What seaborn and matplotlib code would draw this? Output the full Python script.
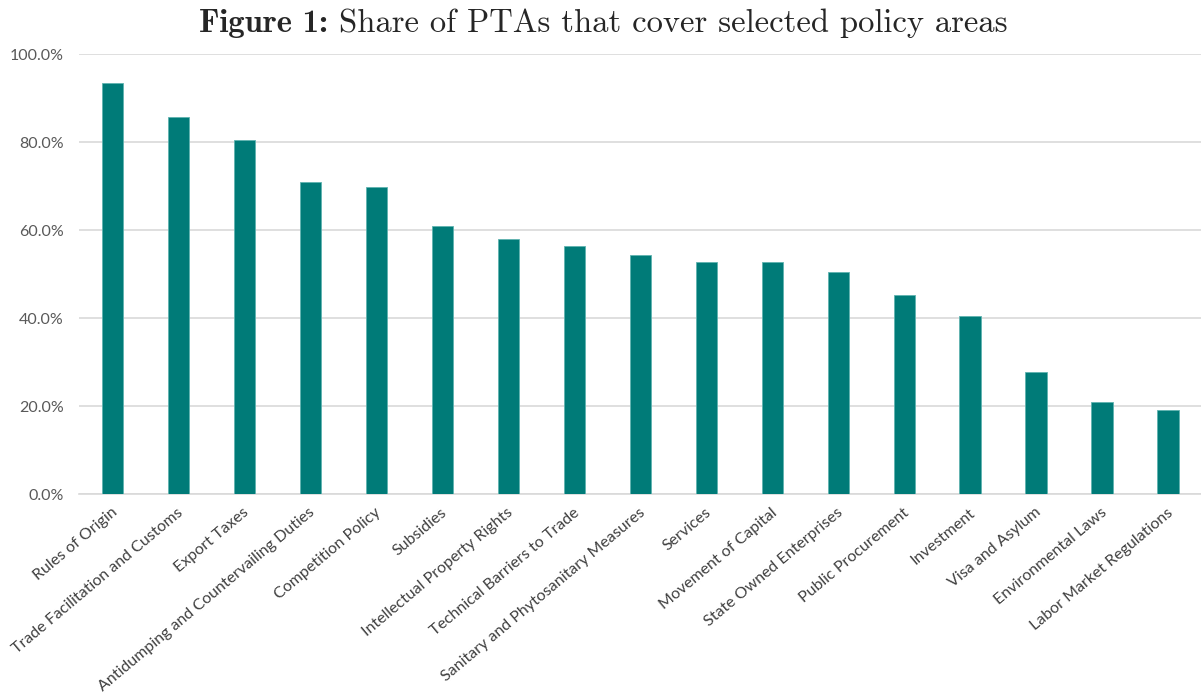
import matplotlib
matplotlib.use("Agg")
import matplotlib.pyplot as plt
import matplotlib.transforms as mtransforms
import seaborn as sns
import pandas as pd
from matplotlib.ticker import PercentFormatter

# policy areas and share of PTAs covering them (%)
areas = [
    "Rules of Origin", "Trade Facilitation and Customs", "Export Taxes",
    "Antidumping and Countervailing Duties", "Competition Policy", "Subsidies",
    "Intellectual Property Rights", "Technical Barriers to Trade",
    "Sanitary and Phytosanitary Measures", "Services", "Movement of Capital",
    "State Owned Enterprises", "Public Procurement", "Investment",
    "Visa and Asylum", "Environmental Laws", "Labor Market Regulations",
]
shares = [93.4, 85.7, 80.5, 70.9, 69.8, 60.9, 58.0, 56.4, 54.3, 52.7, 52.7,
          50.5, 45.2, 40.5, 27.7, 20.9, 19.1]
y_ticks = [0, 20, 40, 60, 80, 100]

df = pd.DataFrame({"area": areas, "share": shares})

sns.set_style("white")
plt.rcParams["font.family"] = ["Lato", "DejaVu Sans"]

fig = plt.figure(figsize=(12.01, 6.95), dpi=100)
ax = fig.add_axes([0.066, 0.289, 0.934, 0.633])

sns.barplot(data=df, x="area", y="share", color="#007b78", width=0.32,
            saturation=1, edgecolor="#5fb3b0", linewidth=0.6, ax=ax, zorder=3)

ax.set_ylim(0, 100)
ax.set_xlim(-0.5, len(areas) - 0.5)
ax.set_yticks(y_ticks)
ax.yaxis.set_major_formatter(PercentFormatter(xmax=100, decimals=1))
ax.grid(axis="y", color="#d9d9d9", linewidth=1.2, zorder=0)
ax.set_axisbelow(True)

for side in ["left", "right", "top"]:
    ax.spines[side].set_visible(False)
ax.spines["bottom"].set_color("#d9d9d9")
ax.spines["bottom"].set_linewidth(1.2)

ax.tick_params(axis="y", length=0, pad=11, labelsize=11.5, labelcolor="#595959")
ax.tick_params(axis="x", length=0, pad=12, labelsize=11.5, labelcolor="#404040")
shift = mtransforms.ScaledTranslation(3 / 100, 0, fig.dpi_scale_trans)
for lbl in ax.get_xticklabels():
    lbl.set_rotation(40)
    lbl.set_ha("right")
    lbl.set_va("center")
    lbl.set_rotation_mode("anchor")
    lbl.set_transform(lbl.get_transform() + shift)

ax.set_xlabel("")
ax.set_ylabel("")

# title: bold "Figure 1:" followed by regular text, centred as a whole
fig.canvas.draw()
renderer = fig.canvas.get_renderer()
t1 = fig.text(0, 0.966, "Figure 1:", ha="left", va="center", fontsize=23.5, family="cmb10")
t2 = fig.text(0, 0.966, "Share of PTAs that cover selected policy areas", ha="left",
              va="center", fontsize=23.5, family="cmr10")
gap = 11
w1 = t1.get_window_extent(renderer).width
w2 = t2.get_window_extent(renderer).width
x0 = (fig.bbox.width - w1 - w2 - gap) / 2 + 3
t1.set_x(x0 / fig.bbox.width)
t2.set_x((x0 + w1 + gap) / fig.bbox.width)

fig.savefig("out.png", dpi=100)
